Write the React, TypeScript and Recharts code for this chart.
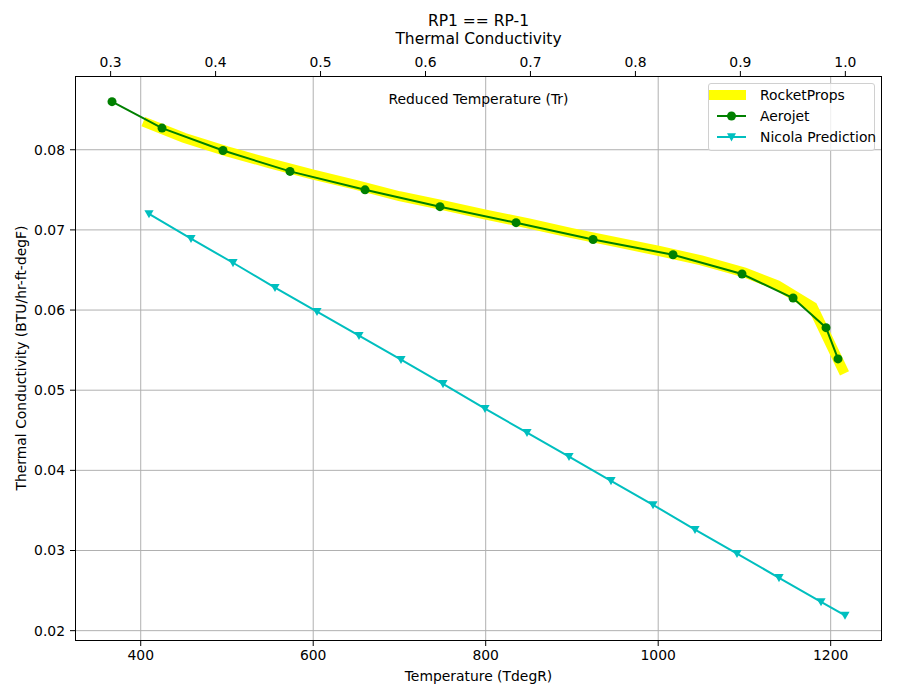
import { LineChart, Line, XAxis, YAxis, CartesianGrid } from 'recharts'

// critical temperature used for the reduced-temperature axis (degR)
const TC = 1217

const rocketT = [403, 450, 500, 550, 600, 650, 700, 750, 800, 850, 900, 950, 1000, 1050, 1100, 1138, 1179, 1216]
const rocketK = [0.0835, 0.0815, 0.0798, 0.0783, 0.0769, 0.0756, 0.0742, 0.0731, 0.0719, 0.0708, 0.0696, 0.0685, 0.0674, 0.0662, 0.0647, 0.0631, 0.0604, 0.0521]

const aerojetT = [366.7, 424.7, 495.4, 573.1, 660.1, 747.0, 835.2, 924.5, 1017.2, 1097.2, 1156.4, 1194.6, 1208.5]
const aerojetK = [0.086, 0.0827, 0.0799, 0.0773, 0.075, 0.0729, 0.0709, 0.0688, 0.0669, 0.0645, 0.0615, 0.0578, 0.0539]

const nicolaT = [409.6, 458.3, 507.0, 555.7, 604.4, 653.1, 701.8, 750.5, 799.2, 847.9, 896.6, 945.3, 994.0, 1042.7, 1091.4, 1140.1, 1188.8, 1216.6]
const nicolaK = [0.072, 0.0689, 0.0659, 0.0628, 0.0598, 0.0568, 0.0538, 0.0508, 0.0477, 0.0447, 0.0417, 0.0387, 0.0357, 0.0326, 0.0296, 0.0266, 0.0236, 0.0219]

const tempTicks = [400, 600, 800, 1000, 1200]
const trTicks = [0.3, 0.4, 0.5, 0.6, 0.7, 0.8, 0.9, 1.0]
const kTicks = [0.02, 0.03, 0.04, 0.05, 0.06, 0.07, 0.08]

const rocket = rocketT.map((t, i) => ({ t, k: rocketK[i] }))
const aerojet = aerojetT.map((t, i) => ({ t, k: aerojetK[i] }))
const nicola = nicolaT.map((t, i) => ({ t, k: nicolaK[i] }))

const FONT = '"DejaVu Sans", sans-serif'
const X_DOMAIN = [323.8, 1259.5]
const Y_DOMAIN = [0.01871, 0.0892]

const tickStyle = { fill: '#000', fontSize: 13.9, fontFamily: FONT }

const TriangleDot = (props: any) => {
  const { cx, cy, index } = props
  if (cx == null || cy == null) return <g key={index} />
  const s = 4.6
  return (
    <path
      key={index}
      d={`M${cx - s},${cy - s * 0.8} L${cx + s},${cy - s * 0.8} L${cx},${cy + s * 0.95} Z`}
      fill="#00bfbf"
    />
  )
}

function LegendBox() {
  const rows = [
    { label: 'RocketProps', kind: 'band' },
    { label: 'Aerojet', kind: 'circle' },
    { label: 'Nicola Prediction', kind: 'tri' },
  ]
  return (
    <div
      style={{
        position: 'absolute',
        left: 708,
        top: 83,
        width: 167,
        height: 68,
        border: '1px solid #d0d0d0',
        borderRadius: 3,
        background: 'rgba(255,255,255,0.8)',
        fontFamily: FONT,
        fontSize: 13.9,
        boxSizing: 'border-box',
        whiteSpace: 'nowrap',
      }}
    >
      {rows.map((r, i) => (
        <div key={r.label} style={{ position: 'absolute', left: 0, top: 2 + i * 21, height: 18, display: 'flex', alignItems: 'center' }}>
          <svg width={44} height={18}>
            {r.kind === 'band' && <line x1={0} y1={9} x2={37} y2={9} stroke="#ffff00" strokeWidth={10} />}
            {r.kind === 'circle' && (
              <g>
                <line x1={8} y1={9} x2={37} y2={9} stroke="#008000" strokeWidth={2} />
                <circle cx={22.5} cy={9} r={4.5} fill="#008000" />
              </g>
            )}
            {r.kind === 'tri' && (
              <g>
                <line x1={8} y1={9} x2={37} y2={9} stroke="#00bfbf" strokeWidth={2} />
                <path d="M18,5.3 L27,5.3 L22.5,13.4 Z" fill="#00bfbf" />
              </g>
            )}
          </svg>
          <span style={{ marginLeft: 7 }}>{r.label}</span>
        </div>
      ))}
    </div>
  )
}

export default function App() {
  return (
    <div style={{ position: 'absolute', left: 0, top: 0, width: 900, height: 700, background: '#fff', fontFamily: FONT }}>
      <LineChart width={900} height={700} margin={{ top: 46, right: 18, bottom: 29, left: 15 }}>
        <CartesianGrid stroke="#b0b0b0" strokeWidth={1} verticalValues={tempTicks} horizontalValues={kTicks} />
        <XAxis
          type="number"
          dataKey="t"
          domain={X_DOMAIN}
          ticks={tempTicks}
          allowDataOverflow
          axisLine={false}
          tickLine={{ stroke: '#000' }}
          tickSize={5}
          tickMargin={4}
          height={30}
          tick={tickStyle}
        />
        <XAxis
          xAxisId="top"
          orientation="top"
          type="number"
          dataKey="t"
          domain={X_DOMAIN}
          ticks={trTicks.map((r) => r * TC)}
          tickFormatter={(v: number) => (v / TC).toFixed(1)}
          allowDataOverflow
          axisLine={false}
          tickLine={{ stroke: '#000' }}
          tickSize={5}
          tickMargin={4}
          height={30}
          tick={tickStyle}
        />
        <YAxis
          type="number"
          domain={Y_DOMAIN}
          ticks={kTicks}
          tickFormatter={(v: number) => v.toFixed(2)}
          allowDataOverflow
          axisLine={false}
          tickLine={{ stroke: '#000' }}
          tickSize={5}
          tickMargin={5}
          width={60}
          tick={tickStyle}
        />
        <Line data={rocket} dataKey="k" stroke="#ffff00" strokeWidth={10} dot={false} isAnimationActive={false} />
        <Line
          data={aerojet}
          dataKey="k"
          stroke="#008000"
          strokeWidth={2}
          dot={{ r: 4.5, fill: '#008000', stroke: '#008000', strokeWidth: 0 }}
          isAnimationActive={false}
        />
        <Line data={nicola} dataKey="k" stroke="#00bfbf" strokeWidth={2} dot={TriangleDot} isAnimationActive={false} />
      </LineChart>

      {/* plot frame */}
      <div style={{ position: 'absolute', left: 75, top: 76, width: 807, height: 565, border: '1px solid #000', boxSizing: 'border-box', pointerEvents: 'none' }} />

      <div style={{ position: 'absolute', left: 75, width: 807, top: 12, textAlign: 'center', fontSize: 15.5, lineHeight: '18px' }}>
        <div style={{ height: 18 }}>RP1 == RP-1</div>
        <div style={{ height: 18 }}>Thermal Conductivity</div>
      </div>
      <div style={{ position: 'absolute', left: 75, width: 807, top: 91, textAlign: 'center', fontSize: 13.9 }}>Reduced Temperature (Tr)</div>
      <div style={{ position: 'absolute', left: 75, width: 807, top: 668, textAlign: 'center', fontSize: 13.9 }}>Temperature (TdegR)</div>
      <div
        style={{
          position: 'absolute',
          left: 21,
          top: 358,
          transform: 'translate(-50%, -50%) rotate(-90deg)',
          whiteSpace: 'nowrap',
          fontSize: 13.9,
        }}
      >
        Thermal Conductivity (BTU/hr-ft-degF)
      </div>
      <LegendBox />
    </div>
  )
}
